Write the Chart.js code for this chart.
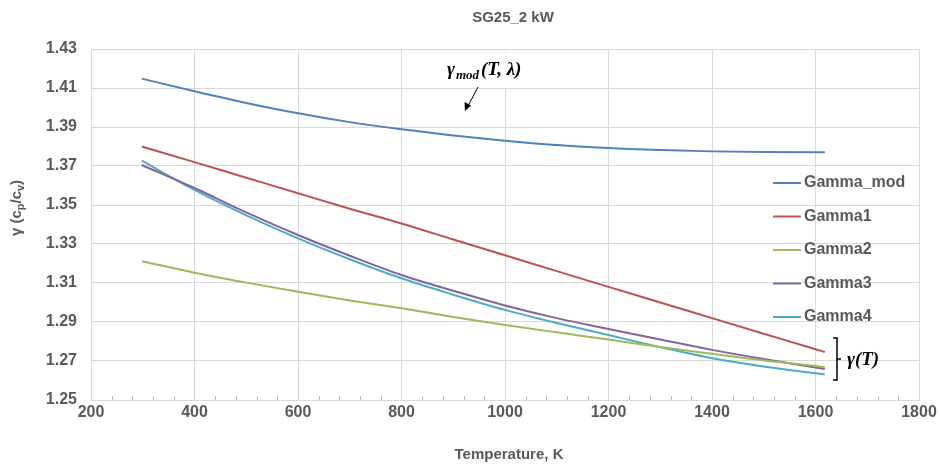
<!DOCTYPE html>
<html lang="en">
<head>
  <meta charset="UTF-8">
  <title>SG25_2 kW</title>
  <script src="https://cdn.jsdelivr.net/npm/chart.js"></script>
  <style>
    body {
      margin: 0;
      background: #fff;
    }
  </style>
</head>
<body>
  <canvas id="gammaChart" width="940" height="467"></canvas>

  <script>
    // Temperatures (K) and gamma values
    const temps = [298, 400, 500, 600, 700, 800, 900, 1000, 1100, 1200, 1300, 1400, 1500, 1600, 1618];
    const gammaMod = [1.4148, 1.4083, 1.4023, 1.3970, 1.3925, 1.3888, 1.3857, 1.3830, 1.3808, 1.3792, 1.3782, 1.3775, 1.3772, 1.3771, 1.3771];
    const gamma1 = [1.3800, 1.3720, 1.3640, 1.3560, 1.3481, 1.3405, 1.3323, 1.3242, 1.3161, 1.3080, 1.3000, 1.2920, 1.2840, 1.2760, 1.2746];
    const gamma2 = [1.3212, 1.3153, 1.3102, 1.3055, 1.3010, 1.2970, 1.2926, 1.2885, 1.2847, 1.2810, 1.2772, 1.2737, 1.2703, 1.2674, 1.2668];
    const gamma3 = [1.3705, 1.3587, 1.3462, 1.3346, 1.3240, 1.3141, 1.3060, 1.2985, 1.2920, 1.2864, 1.2810, 1.2757, 1.2710, 1.2667, 1.2659];
    const gamma4 = [1.3727, 1.3577, 1.3447, 1.3329, 1.3222, 1.3124, 1.3040, 1.2962, 1.2895, 1.2833, 1.2771, 1.2714, 1.2672, 1.2637, 1.2632];

    const seriesNames = ["Gamma_mod", "Gamma1", "Gamma2", "Gamma3", "Gamma4"];
    const seriesValues = [gammaMod, gamma1, gamma2, gamma3, gamma4];
    const seriesColors = ["#4F81BD", "#C0504D", "#9BBB59", "#8064A2", "#4BACC6"];

    const TEXT = "#595959";
    const GRID = "#d9d9d9";
    const SANS = "'Liberation Sans', Arial, sans-serif";
    const SERIF = "'Liberation Serif', 'DejaVu Serif', serif";

    // Title, axis title, legend and the two math labels
    const decorPlugin = {
      id: "decor",
      afterDraw(chart) {
        const ctx = chart.ctx;
        const xs = chart.scales.x;
        const area = chart.chartArea;
        ctx.save();

        // minor ticks on the x axis
        ctx.strokeStyle = "#bfbfbf";
        ctx.lineWidth = 1;
        for (let t = 240; t < 1800; t += 40) {
          if (t % 200 === 0) continue;
          const px = Math.round(xs.getPixelForValue(t)) + 0.5;
          ctx.beginPath();
          ctx.moveTo(px, area.bottom);
          ctx.lineTo(px, area.bottom - 4);
          ctx.stroke();
        }

        // chart title
        ctx.fillStyle = TEXT;
        ctx.font = "bold 15px " + SANS;
        ctx.textAlign = "center";
        ctx.textBaseline = "middle";
        ctx.fillText("SG25_2 kW", 513, 18);

        // x axis title
        ctx.fillText("Temperature, K", 509, 455);

        // y axis title with subscripts
        ctx.save();
        ctx.translate(17, 208);
        ctx.rotate(-Math.PI / 2);
        const parts = [["γ (c", false], ["p", true], ["/c", false], ["v", true], [")", false]];
        let total = 0;
        parts.forEach(([t, sub]) => {
          ctx.font = (sub ? "bold 11px " : "bold 15px ") + SANS;
          total += ctx.measureText(t).width;
        });
        let cx = -total / 2;
        ctx.textAlign = "left";
        parts.forEach(([t, sub]) => {
          ctx.font = (sub ? "bold 11px " : "bold 15px ") + SANS;
          ctx.fillText(t, cx, sub ? 4 : 0);
          cx += ctx.measureText(t).width;
        });
        ctx.restore();

        // legend inside the plot area
        ctx.font = "bold 16px " + SANS;
        ctx.textAlign = "left";
        ctx.textBaseline = "middle";
        chart.data.datasets.forEach((ds, i) => {
          const y = 183 + i * 33.5;
          ctx.strokeStyle = ds.borderColor;
          ctx.lineWidth = 2;
          ctx.beginPath();
          ctx.moveTo(773, y);
          ctx.lineTo(801, y);
          ctx.stroke();
          ctx.fillStyle = TEXT;
          ctx.fillText(ds.label, 804, y);
        });

        // gamma_mod(T, lambda) label with white box and arrow
        ctx.fillStyle = "#fff";
        ctx.fillRect(440, 52, 95, 36);
        ctx.fillStyle = "#000";
        ctx.textBaseline = "alphabetic";
        ctx.font = "bold italic 19px " + SERIF;
        ctx.fillText("γ", 447, 75);
        ctx.font = "bold italic 13px " + SERIF;
        ctx.fillText("mod", 456, 79);
        ctx.font = "bold italic 19px " + SERIF;
        ctx.fillText("(T, λ)", 481, 75);

        ctx.strokeStyle = "#000";
        ctx.lineWidth = 1;
        ctx.beginPath();
        ctx.moveTo(478, 87);
        ctx.lineTo(468, 106);
        ctx.stroke();
        ctx.beginPath();
        ctx.moveTo(465, 111);
        ctx.lineTo(464.5, 102);
        ctx.lineTo(471, 105.5);
        ctx.closePath();
        ctx.fill();

        // gamma(T) bracket
        ctx.lineWidth = 1.5;
        ctx.beginPath();
        ctx.moveTo(833, 338);
        ctx.lineTo(837, 338);
        ctx.lineTo(837, 380);
        ctx.lineTo(833, 380);
        ctx.moveTo(837, 359);
        ctx.lineTo(841, 359);
        ctx.stroke();
        ctx.font = "bold italic 19px " + SERIF;
        ctx.fillText("γ(T)", 847, 365);

        ctx.restore();
      }
    };

    const datasets = seriesNames.map((name, i) => ({
      label: name,
      data: temps.map((t, j) => ({ x: t, y: seriesValues[i][j] })),
      borderColor: seriesColors[i],
      backgroundColor: seriesColors[i],
      borderWidth: 2,
      pointRadius: 0,
      cubicInterpolationMode: "monotone",
      fill: false,
    }));

    new Chart(document.getElementById("gammaChart"), {
      type: "line",
      data: { datasets: datasets },
      options: {
        responsive: false,
        animation: false,
        layout: {
          padding: { top: 49, right: 21, left: 0, bottom: 0 }
        },
        plugins: {
          legend: { display: false },
          tooltip: { enabled: false },
          title: { display: false },
        },
        scales: {
          x: {
            type: "linear",
            min: 200,
            max: 1800,
            afterFit: (s) => { s.height = 67; },
            ticks: {
              stepSize: 200,
              color: TEXT,
              padding: 3,
              font: { family: SANS, size: 16, weight: "bold" },
              callback: (v) => String(v),
            },
            grid: { color: GRID, drawTicks: false },
            border: { color: GRID },
          },
          y: {
            min: 1.25,
            max: 1.43,
            afterFit: (s) => { s.width = 91; },
            ticks: {
              stepSize: 0.02,
              color: TEXT,
              padding: 14,
              font: { family: SANS, size: 16, weight: "bold" },
              callback: (v) => v.toFixed(2),
            },
            grid: { color: GRID, drawTicks: false },
            border: { color: GRID },
          },
        },
      },
      plugins: [decorPlugin],
    });
  </script>
</body>
</html>
